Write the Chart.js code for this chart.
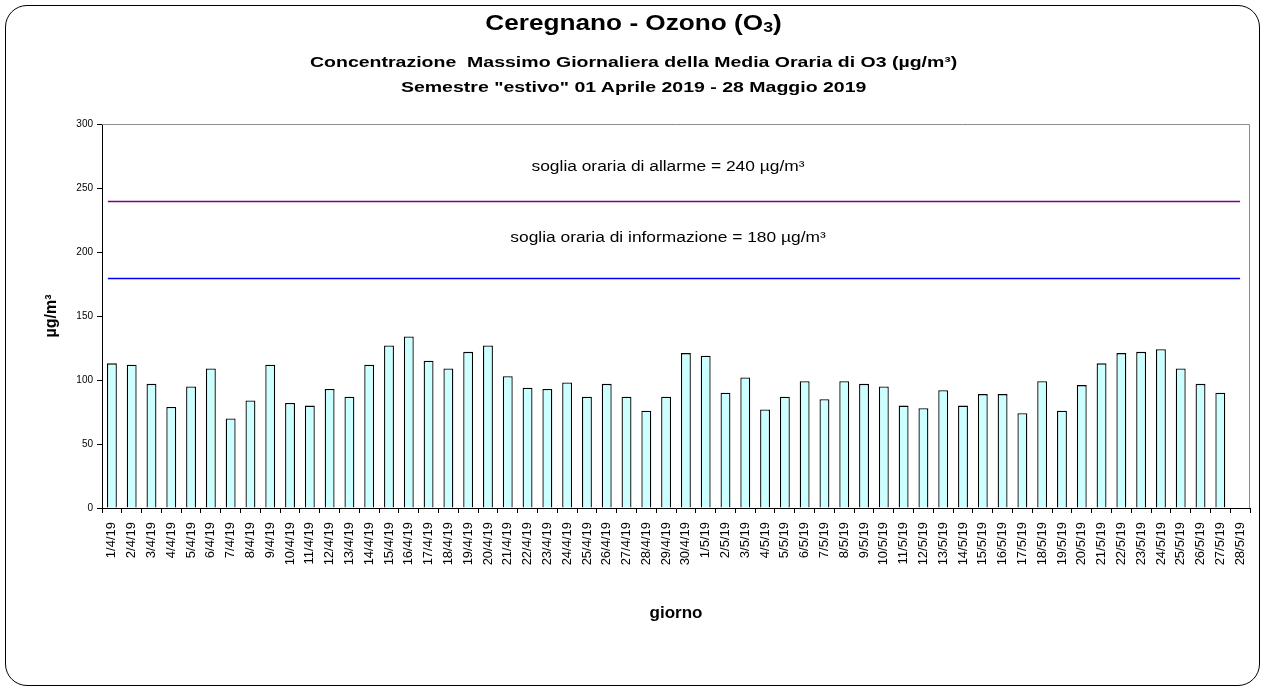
<!DOCTYPE html>
<html>
<head>
<meta charset="utf-8">
<script src="https://cdn.jsdelivr.net/npm/chart.js@4"></script>
<style>
    body { margin: 0; background: #fff; font-family: "Liberation Sans", Arial, sans-serif; }
    #page { position: relative; width: 1267px; height: 693px; overflow: hidden; }
    #frame { position: absolute; left: 5px; top: 5px; width: 1255px; height: 681px; border: 1px solid #000; border-radius: 22px; box-sizing: border-box; }
    .t { position: absolute; left: 0; width: 1267px; text-align: center; font-weight: bold; color: #000; white-space: nowrap; transform-origin: 633px 50%; }
    #title { top: 9px; font-size: 22px; line-height: 28px; transform: scaleX(1.19); }
    #title sub { font-size: 15px; vertical-align: -2px; line-height: 0; }
    #sub1 { top: 53px; font-size: 15px; line-height: 18px; transform: scaleX(1.3); }
    #sub2 { top: 78px; font-size: 15px; line-height: 18px; transform: scaleX(1.3); }
    #wrap { position: absolute; left: 0; top: 0; width: 1267px; height: 693px; }
</style>
</head>
<body>
<div id="page">
    <div id="frame"></div>
    <div id="wrap"><canvas id="chart"></canvas></div>
    <div class="t" id="title">Ceregnano - Ozono (O<sub>3</sub>)</div>
    <div class="t" id="sub1">Concentrazione&nbsp; Massimo Giornaliera della Media Oraria di O3 (µg/m³)</div>
    <div class="t" id="sub2">Semestre "estivo" 01 Aprile 2019 - 28 Maggio 2019</div>
</div>
<script>
// Days of the period (1 April - 28 May 2019)
const days = [
    "1/4/19", "2/4/19", "3/4/19", "4/4/19", "5/4/19", "6/4/19", "7/4/19", "8/4/19", "9/4/19", "10/4/19",
    "11/4/19", "12/4/19", "13/4/19", "14/4/19", "15/4/19", "16/4/19", "17/4/19", "18/4/19", "19/4/19", "20/4/19",
    "21/4/19", "22/4/19", "23/4/19", "24/4/19", "25/4/19", "26/4/19", "27/4/19", "28/4/19", "29/4/19", "30/4/19",
    "1/5/19", "2/5/19", "3/5/19", "4/5/19", "5/5/19", "6/5/19", "7/5/19", "8/5/19", "9/5/19", "10/5/19",
    "11/5/19", "12/5/19", "13/5/19", "14/5/19", "15/5/19", "16/5/19", "17/5/19", "18/5/19", "19/5/19", "20/5/19",
    "21/5/19", "22/5/19", "23/5/19", "24/5/19", "25/5/19", "26/5/19", "27/5/19", "28/5/19"
];

// Daily maximum of the hourly mean O3 (µg/m³); 28/5 has no value
const ozoneMax = [
    113, 112, 97, 79, 95, 109, 70, 84, 112, 82,
    80, 93, 87, 112, 127, 134, 115, 109, 122, 127,
    103, 94, 93, 98, 87, 97, 87, 76, 87, 121,
    119, 90, 102, 77, 87, 99, 85, 99, 97, 95,
    80, 78, 92, 80, 89, 89, 74, 99, 76, 96,
    113, 121, 122, 124, 109, 97, 90, null
];

// Hourly thresholds
const thresholdValues = [240, 180];
const thresholdLabels = ["soglia oraria di allarme = 240 µg/m³", "soglia oraria di informazione = 180 µg/m³"];

const yTicks = [0, 50, 100, 150, 200, 250, 300];

const fontFamily = '"Liberation Sans", Arial, sans-serif';
const thresholdColors = ["#800080", "#0000ff"];
const thresholdLabelGap = [34, 40];

// Draws the gray frame of the plot area plus the threshold lines and their labels
const plotDecor = {
    id: "plotDecor",
    beforeDatasetsDraw(chart) {
        const { ctx, chartArea } = chart;
        ctx.save();
        ctx.strokeStyle = "#8c8c8c";
        ctx.lineWidth = 1;
        ctx.beginPath();
        ctx.moveTo(chartArea.left, chartArea.top + 0.5);
        ctx.lineTo(chartArea.right - 0.5, chartArea.top + 0.5);
        ctx.lineTo(chartArea.right - 0.5, chartArea.bottom);
        ctx.stroke();
        ctx.restore();
    },
    afterDatasetsDraw(chart) {
        const { ctx, chartArea, scales } = chart;
        const x0 = scales.x.getPixelForValue(0) - 4;
        const x1 = scales.x.getPixelForValue(days.length - 1);
        const cx = (chartArea.left + chartArea.right) / 2 - 8;
        ctx.save();
        thresholdValues.forEach((v, i) => {
            const y = Math.round(scales.y.getPixelForValue(v)) + 0.5;
            ctx.strokeStyle = thresholdColors[i];
            ctx.lineWidth = 1.5;
            ctx.beginPath();
            ctx.moveTo(x0, y);
            ctx.lineTo(x1, y);
            ctx.stroke();
            // label text, stretched sideways like the original
            ctx.save();
            ctx.translate(cx, y - thresholdLabelGap[i]);
            ctx.scale(1.24, 1);
            ctx.fillStyle = "#000";
            ctx.font = "14px " + fontFamily;
            ctx.textAlign = "center";
            ctx.textBaseline = "middle";
            ctx.fillText(thresholdLabels[i], 0, 0);
            ctx.restore();
        });
        ctx.restore();
    }
};

new Chart(document.getElementById("chart"), {
    type: "bar",
    data: {
        labels: days,
        datasets: [{
            label: "O3",
            data: ozoneMax,
            backgroundColor: "#ccffff",
            borderColor: "#000",
            borderWidth: 1.3,
            categoryPercentage: 1,
            barPercentage: 0.5
        }]
    },
    options: {
        responsive: true,
        maintainAspectRatio: false,
        animation: false,
        layout: { padding: { left: 38, right: 17, top: 124, bottom: 65 } },
        plugins: {
            legend: { display: false },
            tooltip: { enabled: false }
        },
        scales: {
            x: {
                offset: true,
                grid: { display: true, drawOnChartArea: false, drawTicks: true, tickLength: 5, tickColor: "#000", offset: true },
                border: { color: "#000", width: 1 },
                ticks: {
                    color: "#000",
                    font: { family: fontFamily, size: 13 },
                    maxRotation: 90,
                    minRotation: 90,
                    autoSkip: false,
                    padding: 9
                },
                title: {
                    display: true,
                    text: "giorno",
                    color: "#000",
                    font: { family: fontFamily, size: 17, weight: "bold" }
                },
                afterFit(scale) { scale.height = 120; }
            },
            y: {
                min: 0,
                max: 300,
                afterBuildTicks(scale) { scale.ticks = yTicks.map(v => ({ value: v })); },
                grid: { display: true, drawOnChartArea: false, drawTicks: true, tickLength: 5, tickColor: "#000" },
                border: { color: "#000", width: 1 },
                ticks: {
                    color: "#000",
                    font: { family: fontFamily, size: 10 },
                    padding: 4
                },
                title: {
                    display: true,
                    text: "µg/m³",
                    color: "#000",
                    font: { family: fontFamily, size: 16, weight: "bold" }
                },
                afterFit(scale) { scale.width = 64; }
            }
        }
    },
    plugins: [plotDecor]
});
</script>
</body>
</html>
